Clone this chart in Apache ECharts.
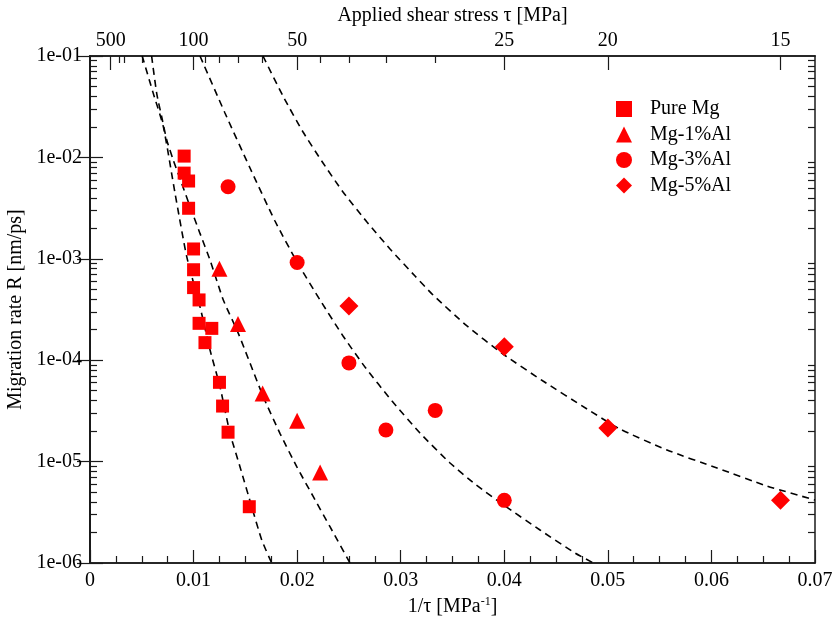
<!DOCTYPE html>
<html>
<head>
<meta charset="utf-8">
<script src="https://cdn.jsdelivr.net/npm/echarts@6/dist/echarts.min.js"></script>
<style>
html,body{margin:0;padding:0;background:#fff;}
#chart{width:833px;height:619px;}
</style>
</head>
<body>
<div id="chart"></div>
<script>
// ---- data ----
const seriesNames = ['Pure Mg', 'Mg-1%Al', 'Mg-3%Al', 'Mg-5%Al'];

const pureMgX = [0.00909, 0.00909, 0.00952, 0.00952, 0.0100, 0.0100, 0.0100, 0.01053, 0.01053, 0.01176, 0.0111, 0.0125, 0.0128, 0.01333, 0.01538];
const pureMgR = [1.03e-2, 7.0e-3, 5.85e-3, 3.15e-3, 1.25e-3, 7.8e-4, 5.2e-4, 3.93e-4, 2.31e-4, 2.06e-4, 1.49e-4, 6.05e-5, 3.53e-5, 1.95e-5, 3.59e-6];

const al1X = [0.0125, 0.01429, 0.01667, 0.0200, 0.02222];
const al1R = [8.0e-4, 2.28e-4, 4.7e-5, 2.53e-5, 7.8e-6];

const al3X = [0.01333, 0.0200, 0.0250, 0.02857, 0.03333, 0.0400];
const al3R = [5.14e-3, 9.2e-4, 9.4e-5, 2.05e-5, 3.2e-5, 4.15e-6];

const al5X = [0.0250, 0.0400, 0.0500, 0.06667];
const al5R = [3.43e-4, 1.36e-4, 2.15e-5, 4.15e-6];

// dashed fit curves [1/tau, R]
const fitPureMg = [[0.00504,1e-1],[0.00611,4.28e-2],[0.00708,2.01e-2],[0.00821,4.43e-3],[0.00934,1.05e-3],[0.01062,3.37e-4],[0.01159,1.26e-4],[0.01255,5.48e-5],[0.01352,1.90e-5],[0.01448,8.91e-6],[0.01561,3.60e-6],[0.01658,1.69e-6],[0.01754,1e-6]];
const fitAl1 = [[0.00595,1e-1],[0.00644,4.28e-2],[0.00692,2.52e-2],[0.00741,1.486e-2],[0.00804,9.42e-3],[0.00885,5.55e-3],[0.00966,3.27e-3],[0.01062,1.78e-3],[0.01159,9.72e-4],[0.01287,3.93e-4],[0.01432,1.84e-4],[0.01673,4.36e-5],[0.01834,1.90e-5],[0.01996,8.91e-6],[0.02156,4.51e-6],[0.02317,2.28e-6],[0.0251,1e-6]];
const fitAl3 = [[0.01062,1e-1],[0.01303,2.741e-2],[0.01545,7.861e-3],[0.01786,2.359e-3],[0.01999,9.30e-4],[0.02221,3.924e-4],[0.02443,1.733e-4],[0.02655,8.57e-5],[0.02916,3.959e-5],[0.03186,1.914e-5],[0.03476,9.69e-6],[0.03717,6.01e-6],[0.04007,3.65e-6],[0.04345,2.115e-6],[0.04683,1.255e-6],[0.0486,1e-6]];
const fitAl5 = [[0.0167,1e-1],[0.01863,4.031e-2],[0.02057,1.78e-2],[0.0225,8.807e-3],[0.02443,4.559e-3],[0.02674,2.306e-3],[0.02897,1.249e-3],[0.03138,6.77e-4],[0.03312,4.40e-4],[0.0364,2.175e-4],[0.03988,1.151e-4],[0.04374,6.23e-5],[0.04799,3.30e-5],[0.05117,2.097e-5],[0.05571,1.301e-5],[0.06054,8.65e-6],[0.06537,5.745e-6],[0.07,4.18e-6]];

// axes
const xMajorTicks = [0, 0.01, 0.02, 0.03, 0.04, 0.05, 0.06, 0.07];
const xMinorTicks = [0.0025,0.005,0.0075,0.0125,0.015,0.0175,0.0225,0.025,0.0275,0.0325,0.035,0.0375,0.0425,0.045,0.0475,0.0525,0.055,0.0575,0.0625,0.065,0.0675];
const tauLabels = [500, 100, 50, 25, 20, 15];
const tauMinor = [350, 300, 200, 90, 80, 70, 60, 45, 40, 35, 30];
const yDecades = [1e-6, 1e-5, 1e-4, 1e-3, 1e-2, 1e-1];
const yTickLabels = ['1e-06', '1e-05', '1e-04', '1e-03', '1e-02', '1e-01'];

// ---- chart ----
const FONT = 'Liberation Serif';
const AX = '#1a1a1a';
const yMajorExp = yDecades.map(v => Math.log10(v));
const yMinorExp = [];
for (let d = 0; d < 5; d++) for (let m = 2; m <= 9; m++) yMinorExp.push(Math.log10(m * yDecades[d]));

function zip(xs, ys) { return xs.map((x, i) => [x, ys[i]]); }

const baseLine = { show: true, lineStyle: { color: AX, width: 1.5 } };
const tickStyle = { color: AX, width: 1.2 };
function xAx(pos, ticks, len, labels, extra) {
  return Object.assign({
    type: 'value', position: pos, min: 0, max: 0.07, gridIndex: 0,
    axisLine: baseLine, splitLine: { show: false },
    axisTick: { show: true, inside: true, length: len, customValues: ticks, lineStyle: tickStyle },
    axisLabel: labels ? Object.assign({ show: true, fontFamily: FONT, fontSize: 20, color: '#000', margin: 8 }, labels) : { show: false }
  }, extra || {});
}
// tick-only y axes on the exponent scale (same pixel range as the log data axis)
function yTickAx(pos, ticks, len) {
  return {
    type: 'value', position: pos, min: -6, max: -1, gridIndex: 0,
    axisLine: baseLine, splitLine: { show: false },
    axisTick: { show: true, inside: true, length: len, customValues: ticks, lineStyle: tickStyle },
    axisLabel: { show: false }
  };
}

const chart = echarts.init(document.getElementById('chart'), null, { renderer: 'canvas' });
const markerColor = '#ff0000';
const dashStyle = { color: '#000', width: 1.6, type: [7, 5] };

const option = {
  animation: false,
  backgroundColor: '#fff',
  grid: { left: 90, right: 18, top: 56, bottom: 56, containLabel: false, outerBoundsMode: 'none' },
  legend: {
    data: seriesNames,
    orient: 'vertical', left: 611, top: 94,
    itemWidth: 16, itemHeight: 16, itemGap: 5.5,
    textStyle: { fontFamily: FONT, fontSize: 20, color: '#000', lineHeight: 20, padding: [0, 0, 0, 13] }
  },
  xAxis: [
    xAx('bottom', xMajorTicks, 13, { customValues: xMajorTicks, formatter: v => (v === 0 ? '0' : String(+v.toFixed(2))) }, {
      name: '1/τ [MPa{sup|-1}]', nameLocation: 'middle', nameGap: 31,
      nameTextStyle: { fontFamily: FONT, fontSize: 20, color: '#000', rich: { sup: { fontFamily: FONT, fontSize: 12, verticalAlign: 'top', padding: [0, 0, 10, 0] } } }
    }),
    xAx('bottom', xMinorTicks, 7, null),
    xAx('top', tauLabels.map(t => 1 / t), 14, { customValues: tauLabels.map(t => 1 / t), margin: 5, formatter: v => String(Math.round(1 / v)) }, {
      name: 'Applied shear stress τ [MPa]', nameLocation: 'middle', nameGap: 26,
      nameTextStyle: { fontFamily: FONT, fontSize: 20, color: '#000' }
    }),
    xAx('top', tauMinor.map(t => 1 / t), 7, null)
  ],
  yAxis: [
    {
      type: 'log', logBase: 10, position: 'left', min: 1e-6, max: 1e-1, gridIndex: 0,
      axisLine: baseLine, splitLine: { show: false }, axisTick: { show: false }, minorTick: { show: false },
      axisLabel: { show: true, customValues: yDecades, fontFamily: FONT, fontSize: 20, color: '#000', margin: 8,
        formatter: v => yTickLabels[Math.round(Math.log10(v)) + 6] },
      name: 'Migration rate R [nm/ps]', nameLocation: 'middle', nameGap: 49, nameRotate: 90,
      nameTextStyle: { fontFamily: FONT, fontSize: 20, color: '#000' }
    },
    yTickAx('left', yMajorExp, 13),
    yTickAx('left', yMinorExp, 7),
    yTickAx('right', yMajorExp, 13),
    yTickAx('right', yMinorExp, 7)
  ],
  series: [
    { type: 'line', data: fitPureMg, showSymbol: false, symbol: 'none', smooth: 0.2, lineStyle: dashStyle, silent: true, z: 1 },
    { type: 'line', data: fitAl1, showSymbol: false, symbol: 'none', smooth: 0.2, lineStyle: dashStyle, silent: true, z: 1 },
    { type: 'line', data: fitAl3, showSymbol: false, symbol: 'none', smooth: 0.2, lineStyle: dashStyle, silent: true, z: 1 },
    { type: 'line', data: fitAl5, showSymbol: false, symbol: 'none', smooth: 0.2, lineStyle: dashStyle, silent: true, z: 1 },
    { name: seriesNames[0], type: 'scatter', data: zip(pureMgX, pureMgR), symbol: 'rect', symbolSize: 13, itemStyle: { color: markerColor, opacity: 1 }, z: 3 },
    { name: seriesNames[1], type: 'scatter', data: zip(al1X, al1R), symbol: 'triangle', symbolSize: 16, itemStyle: { color: markerColor, opacity: 1 }, z: 3 },
    { name: seriesNames[2], type: 'scatter', data: zip(al3X, al3R), symbol: 'circle', symbolSize: 15, itemStyle: { color: markerColor, opacity: 1 }, z: 3 },
    { name: seriesNames[3], type: 'scatter', data: zip(al5X, al5R), symbol: 'diamond', symbolSize: 19, itemStyle: { color: markerColor, opacity: 1 }, z: 3 }
  ]
};
chart.setOption(option);
</script>
</body>
</html>
